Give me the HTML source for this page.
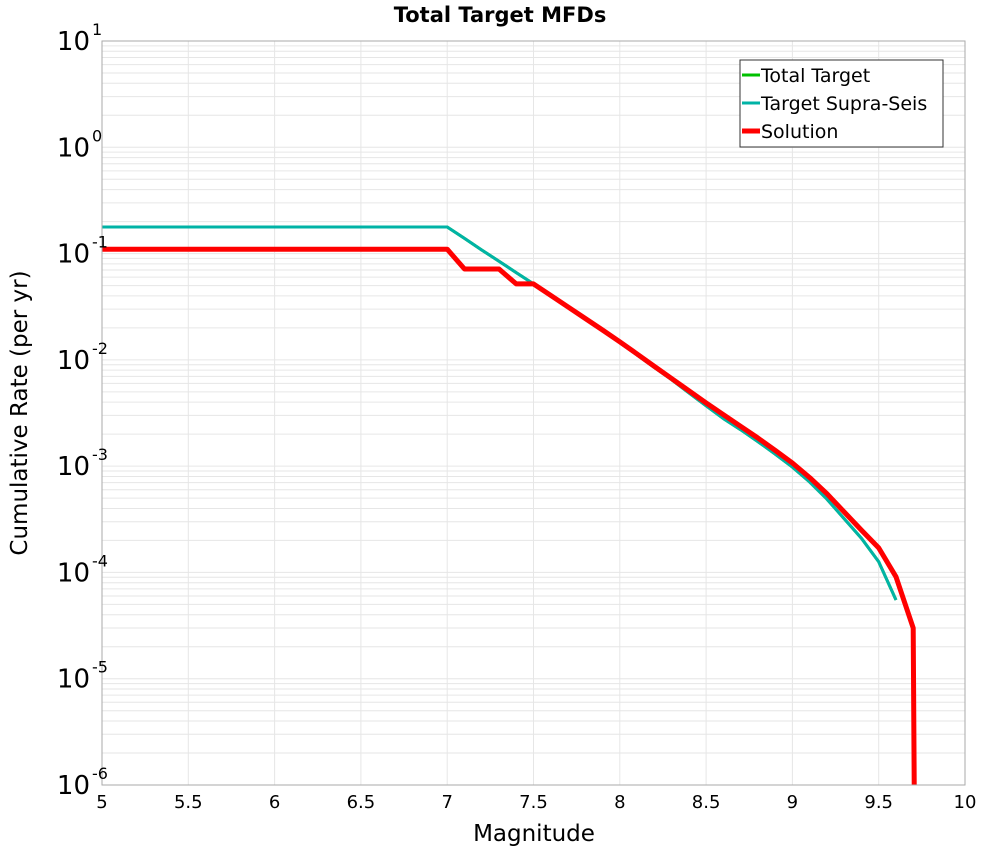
<!DOCTYPE html>
<html><head><meta charset="utf-8"><style>
body{margin:0;background:#fff;font-family:"DejaVu Sans","Liberation Sans",sans-serif}
svg text{font-family:"DejaVu Sans","Liberation Sans",sans-serif}
</style></head><body>
<svg id="chart" width="1000" height="850" xmlns="http://www.w3.org/2000/svg">
<text x="500" y="22" text-anchor="middle" font-size="21" font-weight="bold">Total Target MFDs</text>
<g id="grid"></g>
<g id="series" clip-path="url(#clip)"></g>
<defs><clipPath id="clip"><rect x="102" y="41" width="863" height="744"/></clipPath></defs>
<rect x="102" y="41" width="863" height="744" fill="none" stroke="#aaa" stroke-width="1"/>
<g id="axes"></g>
<text x="534" y="841" text-anchor="middle" font-size="23">Magnitude</text>
<text transform="translate(27,413) rotate(-90)" text-anchor="middle" font-size="23">Cumulative Rate (per yr)</text>
<g>
<rect x="740" y="60" width="203" height="87" fill="#fff" stroke="#333" stroke-width="1"/>
<line x1="742" y1="75" x2="760" y2="75" stroke="#00c000" stroke-width="3"/>
<text x="761" y="82" font-size="19">Total Target</text>
<line x1="742" y1="103" x2="760" y2="103" stroke="#00b3a6" stroke-width="3"/>
<text x="761" y="110" font-size="19">Target Supra-Seis</text>
<line x1="742" y1="131" x2="760" y2="131" stroke="#ff0000" stroke-width="5"/>
<text x="761" y="138" font-size="19">Solution</text>
</g>
</svg>
<script>
const mags=[5,5.5,6,6.5,7,7.1,7.2,7.3,7.4,7.5,7.6,7.7,7.8,7.9,8,8.1,8.2,8.3,8.4,8.5,8.6,8.7,8.8,8.9,9,9.1,9.2,9.3,9.4,9.5,9.6];
const supraSeis=[0.178,0.178,0.178,0.178,0.178,0.139,0.108,0.0847,0.0662,0.0518,0.0402,0.0313,0.0243,0.0189,0.0145,0.0111,0.0085,0.0065,0.0049,0.0037,0.0028,0.0022,0.0017,0.0013,0.00098,0.00071,0.00049,0.00032,0.00021,0.000126,0.000055];
const totalTarget=supraSeis;
const solMags=[5,5.5,6,6.5,7,7.1,7.2,7.3,7.4,7.5,7.6,7.7,7.8,7.9,8,8.1,8.2,8.3,8.4,8.5,8.6,8.7,8.8,8.9,9,9.1,9.2,9.3,9.4,9.5,9.6,9.7,9.71];
const solution=[0.11,0.11,0.11,0.11,0.11,0.0716,0.0716,0.0716,0.0518,0.0518,0.0404,0.0315,0.0245,0.0191,0.0148,0.01135,0.0087,0.00668,0.00513,0.00394,0.00305,0.00237,0.00184,0.00141,0.00107,0.00078,0.00055,0.00037,0.00025,0.00017,0.000091,0.00003,1e-7];
const xTicks=[5,5.5,6,6.5,7,7.5,8,8.5,9,9.5,10];
const yExps=[1,0,-1,-2,-3,-4,-5,-6];
const NS="http://www.w3.org/2000/svg";
const X0=102,X1=965,Y0=41,Y1=785;
const xs=m=>X0+(m-5)/5*(X1-X0);
const ys=v=>Y0+(1-Math.log10(v))/7*(Y1-Y0);
function mk(tag,attrs,parent){const e=document.createElementNS(NS,tag);for(const k in attrs)e.setAttribute(k,attrs[k]);parent.appendChild(e);return e;}
const grid=document.getElementById('grid'),axes=document.getElementById('axes'),series=document.getElementById('series');
for(let e=-6;e<1;e++){for(let k=1;k<10;k++){const y=ys(k*Math.pow(10,e));const l=mk('line',{x1:X0,x2:X1,y1:y,y2:y,stroke:'#e6e6e6','stroke-width':1},grid);}}
xTicks.forEach(t=>{const x=xs(t);const l=mk('line',{x1:x,x2:x,y1:Y0,y2:Y1,stroke:'#e6e6e6','stroke-width':1},grid);
const tx=mk('text',{x:x,y:808,'text-anchor':'middle','font-size':18},axes);tx.textContent=String(t);});
yExps.forEach(e=>{const y=ys(Math.pow(10,e));const tx=mk('text',{x:90,y:y+9,'text-anchor':'end','font-size':26},axes);tx.textContent='10';
const sp=mk('text',{x:92,y:y-6,'font-size':16},axes);sp.textContent=String(e);});
function line(mx,vals,color,w,name){const d=vals.map((v,i)=>(i?'L':'M')+xs(mx[i]).toFixed(1)+','+ys(v).toFixed(1)).join('');const p=mk('path',{d:d,fill:'none',stroke:color,'stroke-width':w,'stroke-linejoin':'round'},series);}
line(mags,totalTarget,'#00c000',3,'total-target-line');
line(mags,supraSeis,'#00b3a6',3,'target-supra-seis-line');
line(solMags,solution,'#ff0000',5,'solution-line');
</script>
</body></html>
